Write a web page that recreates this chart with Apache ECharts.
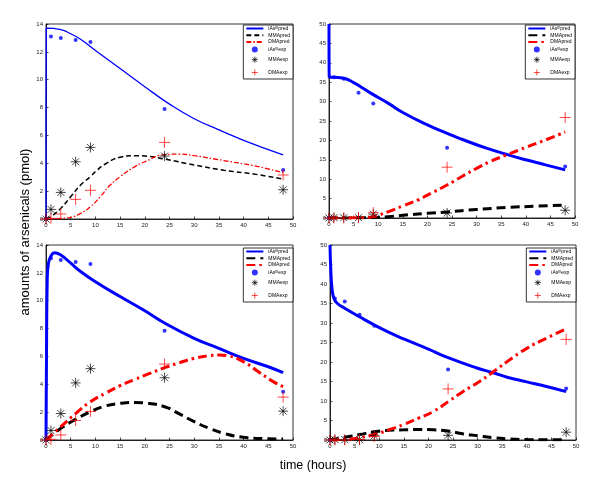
<!DOCTYPE html>
<html><head><meta charset="utf-8">
<script src="https://cdn.jsdelivr.net/npm/echarts@6/dist/echarts.min.js"></script>
<style>html,body{margin:0;padding:0;background:#fff}#c{width:600px;height:483px}</style>
</head><body><div id="c"></div><script>
// experiment sampling times (hours)
const EXP_T = [0,1,3,6,9,24,48];
const NAMES = ['iAsIIIpred','MMApred','DMApred','iAsIIIexp','MMAexp','DMAexp'];

// Panel 1 (top-left)
const P1_IAS_T = [0,0.05,3,5,7,10,15,20,25,30,35,40,48];
const P1_IAS = [0,13.7,13.6,13.3,12.9,12.1,10.8,9.5,8.25,7.2,6.4,5.65,4.6];
const P1_MMA_T = [0,1,3,5,7,9,10,12,15,18,20,24,30,36,42,48];
const P1_MMA = [0,0.17,0.77,1.6,2.44,3.05,3.4,3.95,4.43,4.55,4.52,4.3,3.88,3.5,3.23,2.87];
const P1_DMA_T = [0,3,5,7,9,11,13,15,18,20,24,27,30,36,42,48];
const P1_DMA = [0,0.05,0.12,0.4,0.88,1.6,2.44,3.04,3.76,4.11,4.62,4.66,4.55,4.19,3.83,3.33];
const P1_IAS_EXP = [0,13.1,13.0,12.85,12.7,7.9,3.52];
const P1_MMA_EXP = [0,0.69,1.91,4.11,5.14,4.52,2.1];
const P1_DMA_EXP = [0,0.05,0.36,1.41,2.06,5.5,3.16];

// Panel 2 (top-right)
const P2_IAS_T = [0,0.05,1,3,5,7,9,12,15,20,24,27,32,36.6,40,44,48];
const P2_IAS = [50,36.3,36.25,36.0,34.9,33.4,31.8,29.6,27.2,24.0,21.8,20.3,18.0,16.2,15.0,13.7,12.4];
const P2_MMA_T = [0,3,6,9,12,15,20,24,30,36,42,48];
const P2_MMA = [0,0.02,0.05,0.1,0.35,0.7,1.2,1.55,2.2,2.7,3.05,3.35];
const P2_DMA_T = [0,3,6,8,9,12,15,18,20,24,27,30,33,36,40,44,48];
const P2_DMA = [0,0,0.05,0.2,0.35,1.6,3.1,4.6,5.9,8.5,10.7,12.8,14.7,16.2,18.2,20.1,22.2];
const P2_IAS_EXP = [0,36.3,35.9,32.3,29.5,18.1,13.3];
const P2_MMA_EXP = [0,0.1,0.1,0.1,1.0,1.3,2.0];
const P2_DMA_EXP = [0,0,0,0.1,1.4,13.1,25.9];

// Panel 3 (bottom-left)
const P3_IAS_T = [0,0.1,0.25,0.5,1,1.7,3,5,7,10,15,20,24,30,35,40,45,48];
const P3_IAS = [0,6,11.5,12.7,13.2,13.45,13.28,12.7,12.1,11.36,10.3,9.28,8.4,7.3,6.58,5.86,5.26,4.83];
const P3_MMA_T = [0,3,6,9,12,15,18,20,24,27,30,33,36,40,44,48];
const P3_MMA = [0,0.84,1.48,2.03,2.44,2.63,2.7,2.66,2.39,1.87,1.32,0.84,0.48,0.19,0.1,0.07];
const P3_DMA_T = [0,3,6,9,12,15,18,21,24,27,30,33,35,37,40,43,46,48];
const P3_DMA = [0,0.96,1.9,2.75,3.35,3.9,4.35,4.78,5.19,5.55,5.86,6.05,6.1,6.03,5.62,4.9,4.19,3.83];
const P3_IAS_EXP = [0,13.05,12.92,12.78,12.63,7.85,3.47];
const P3_MMA_EXP = [0,0.68,1.9,4.1,5.12,4.47,2.07];
const P3_DMA_EXP = [0,0.05,0.36,1.4,2.05,5.45,3.08];

// Panel 4 (bottom-right)
const P4_IAS_T = [0,0.15,0.4,0.8,1.5,3,6,9,12,15,20,24,30,33,36,40,44,48];
const P4_IAS = [50,44,39,36.3,35.0,33.8,31.6,29.5,27.6,25.9,23.3,21.1,18.4,17.3,16.1,14.9,13.7,12.4];
const P4_MMA_T = [0,3,6,9,12,15,18,21,24,27,30,33,36,40,44,48];
const P4_MMA = [0,0.7,1.4,2.1,2.5,2.6,2.7,2.6,2.3,1.6,1.1,0.6,0.3,0.1,0.05,0.03];
const P4_DMA_T = [0,3,6,9,12,15,18,21,24,27,30,33,36,40,44,48];
const P4_DMA = [0,0.1,0.6,1.4,2.6,4.0,5.6,7.3,9.8,12.4,14.7,17.3,20.1,23.5,26.1,28.5];
const P4_IAS_EXP = [0,36.3,35.5,32.1,29.3,18.1,13.2];
const P4_MMA_EXP = [0,0.1,0.1,0.1,1.1,1.2,2.0];
const P4_DMA_EXP = [0,0,0,0.1,0.9,13.1,25.8];

const Y_MAX = [14,50,14,50];
const Y_INT = [2,5,2,5];

const panels = [
  {iasT:P1_IAS_T, ias:P1_IAS, mmaT:P1_MMA_T, mma:P1_MMA, dmaT:P1_DMA_T, dma:P1_DMA, iasE:P1_IAS_EXP, mmaE:P1_MMA_EXP, dmaE:P1_DMA_EXP},
  {iasT:P2_IAS_T, ias:P2_IAS, mmaT:P2_MMA_T, mma:P2_MMA, dmaT:P2_DMA_T, dma:P2_DMA, iasE:P2_IAS_EXP, mmaE:P2_MMA_EXP, dmaE:P2_DMA_EXP},
  {iasT:P3_IAS_T, ias:P3_IAS, mmaT:P3_MMA_T, mma:P3_MMA, dmaT:P3_DMA_T, dma:P3_DMA, iasE:P3_IAS_EXP, mmaE:P3_MMA_EXP, dmaE:P3_DMA_EXP},
  {iasT:P4_IAS_T, ias:P4_IAS, mmaT:P4_MMA_T, mma:P4_MMA, dmaT:P4_DMA_T, dma:P4_DMA, iasE:P4_IAS_EXP, mmaE:P4_MMA_EXP, dmaE:P4_DMA_EXP}
];

const grids = [
  {left:46, top:24, width:247, height:195},
  {left:329, top:24, width:246, height:194},
  {left:46, top:245, width:247, height:195},
  {left:330, top:245, width:246, height:195}
];
const legendPos = [
  {right:307, top:25},
  {right:25, top:25},
  {right:307, top:248},
  {right:24, top:248}
];

const zip = (t, v) => t.map((x, i) => [x, v[i]]);
const STAR = 'path://M5,0L5,10M0,5L10,5M1.5,1.5L8.5,8.5M1.5,8.5L8.5,1.5';
const PLUS = 'path://M5,0L5,10M0,5L10,5';
const HIDE = {color:'rgba(0,0,0,0)', borderColor:'rgba(0,0,0,0)', borderWidth:0};

const xAxes = [], yAxes = [], series = [], legends = [];
panels.forEach((p, i) => {
  const thin = i === 0;
  const suf = '|' + i;
  const axisCommon = {
    axisLine:{show:true, onZero:false, lineStyle:{color:'#000', width:0.8}},
    axisTick:{show:true, inside:true, length:2.5, lineStyle:{color:'#000', width:0.7}},
    axisLabel:{fontSize:6, color:'#222', margin:3, fontFamily:'Liberation Sans'},
    splitLine:{show:false}
  };
  xAxes.push(Object.assign({type:'value', gridIndex:i, min:0, max:50, interval:5}, axisCommon));
  yAxes.push(Object.assign({type:'value', gridIndex:i, min:0, max:Y_MAX[i], interval:Y_INT[i]}, axisCommon));
  const lw = thin ? 1.3 : 3;
  const mmaLine = {color:'#000', width:thin ? 1.5 : 3, type: thin ? [5,3] : [9,5]};
  const dmaLine = {color:'#ff0000', width:thin ? 1.3 : 3, type: thin ? [5,2,1.5,2] : [9,4,2.5,4]};
  series.push({
    name:NAMES[0]+suf, type:'line', xAxisIndex:i, yAxisIndex:i, symbol:'none',
    smooth:0.5, data:zip(p.iasT, p.ias),
    lineStyle:{color:'#0000ff', width:lw}, itemStyle:{color:'#0000ff'}, z:3
  });
  series.push({
    name:NAMES[1]+suf, type:'line', xAxisIndex:i, yAxisIndex:i, symbol:'none',
    smooth:0.5, data:zip(p.mmaT, p.mma),
    lineStyle:mmaLine, itemStyle:{color:'#000'}, z:3
  });
  series.push({
    name:NAMES[2]+suf, type:'line', xAxisIndex:i, yAxisIndex:i, symbol:'none',
    smooth:0.5, data:zip(p.dmaT, p.dma),
    lineStyle:dmaLine, itemStyle:{color:'#ff0000'}, z:3
  });
  series.push({
    name:NAMES[3]+suf, type:'scatter', xAxisIndex:i, yAxisIndex:i, symbol:'circle', symbolSize:4,
    data:zip(EXP_T, p.iasE), itemStyle:{color:'#0000ff'}, z:4
  });
  series.push({
    name:NAMES[4]+suf, type:'scatter', xAxisIndex:i, yAxisIndex:i, symbol:STAR, symbolSize:10,
    symbolKeepAspect:true, data:zip(EXP_T, p.mmaE),
    itemStyle:{color:'none', borderColor:'#000', borderWidth:0.9}, z:4
  });
  series.push({
    name:NAMES[5]+suf, type:'scatter', xAxisIndex:i, yAxisIndex:i, symbol:PLUS, symbolSize:11,
    symbolKeepAspect:true, data:zip(EXP_T, p.dmaE),
    itemStyle:{color:'none', borderColor:'#ff0000', borderWidth:0.9}, z:4
  });
  legends.push(Object.assign({
    orient:'vertical', selectedMode:false,
    data:[
      {name:NAMES[0]+suf, itemStyle:HIDE},
      {name:NAMES[1]+suf, itemStyle:HIDE},
      {name:NAMES[2]+suf, itemStyle:HIDE},
      {name:NAMES[3]+suf, icon:'circle', itemStyle:{color:'#0000ff', borderWidth:0}},
      {name:NAMES[4]+suf, icon:STAR, itemStyle:{color:'none', borderColor:'#000', borderWidth:0.9}},
      {name:NAMES[5]+suf, icon:PLUS, itemStyle:{color:'none', borderColor:'#ff0000', borderWidth:0.9}}
    ],
    itemWidth:17, itemHeight:6, itemGap:1.8, padding:[1,3,1,2],
    backgroundColor:'#fff', borderColor:'#000', borderWidth:0.8, align:'left',
    textStyle:{fontSize:5, color:'#000', fontFamily:'Liberation Sans',
      rich:{s:{fontSize:3.5, verticalAlign:'top', fontFamily:'Liberation Sans', color:'#000'}}},
    formatter: name => {
      const b = name.split('|')[0];
      return b.startsWith('iAsIII') ? 'iAs{s|III}' + b.slice(6) : b;
    }
  }, legendPos[i]));
});

const chart = echarts.init(document.getElementById('c'), null, {renderer:'canvas'});
chart.setOption({
  animation:false,
  backgroundColor:'#fff',
  grid: grids.map(g => Object.assign({show:true, borderColor:'#000', borderWidth:0.8, backgroundColor:'transparent'}, g)),
  xAxis:xAxes, yAxis:yAxes, legend:legends, series:series,
  graphic:[
    {type:'text', x:25, y:232, rotation:Math.PI/2,
     style:{text:'amounts of arsenicals (pmol)', fontSize:13, fontFamily:'Liberation Sans', fill:'#000', align:'center', verticalAlign:'middle'}},
    {type:'text', x:313, y:466,
     style:{text:'time (hours)', fontSize:12.5, fontFamily:'Liberation Sans', fill:'#000', align:'center', verticalAlign:'middle'}}
  ]
});
</script></body></html>
